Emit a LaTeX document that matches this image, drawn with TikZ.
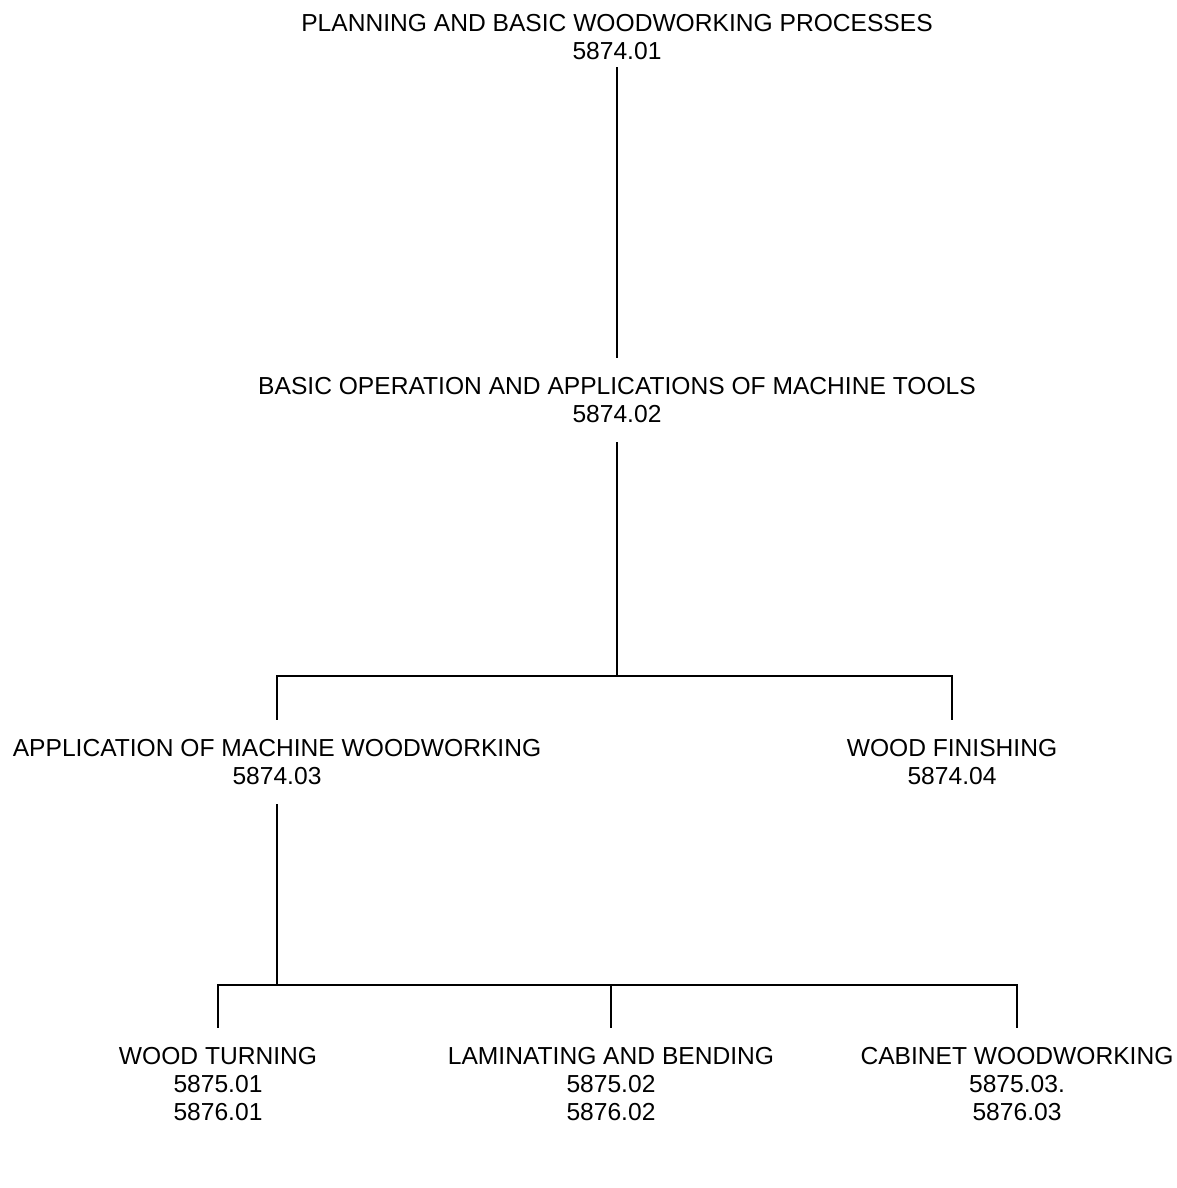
\documentclass[tikz,border=0pt]{standalone}
\usepackage{fontspec}
\setmainfont{Liberation Sans}
\usetikzlibrary{calc}

\begin{document}
\begin{tikzpicture}[
  x=0.02cm, y=-0.02cm,
  font=\fontsize{14}{16}\selectfont,
  unit/.style={align=center, inner xsep=2pt, inner ysep=11pt},
  link/.style={draw=black, line width=1.6pt}
]
\useasboundingbox (0,0) rectangle (1177,1188);

\node[unit, inner ysep=4pt] (plan) at (617,37) {PLANNING AND BASIC WOODWORKING PROCESSES\\5874.01};
\node[unit] (mach) at (617,400) {BASIC OPERATION AND APPLICATIONS OF MACHINE TOOLS\\5874.02};
\node[unit] (appl) at (277,762) {APPLICATION OF MACHINE WOODWORKING\\5874.03};
\node[unit] (fini) at (952,762) {WOOD FINISHING\\5874.04};
\node[unit] (turn) at (218,1084) {WOOD TURNING\\5875.01\\5876.01};
\node[unit] (lami) at (611,1084) {LAMINATING AND BENDING\\5875.02\\5876.02};
\node[unit] (cabi) at (1017,1084) {CABINET WOODWORKING\\5875.03.\\5876.03};

\coordinate (split1) at (617,676);
\coordinate (split2) at (277,985);

\draw[link] (plan) -- (mach);
\draw[link] (mach) -- (split1);
\draw[link] (appl) -- (appl |- split1) -- (fini |- split1) -- (fini);
\draw[link] (appl) -- (split2);
\draw[link] (turn) -- (turn |- split2) -- (cabi |- split2) -- (cabi);
\draw[link] (lami) -- (lami |- split2);
\end{tikzpicture}
\end{document}
